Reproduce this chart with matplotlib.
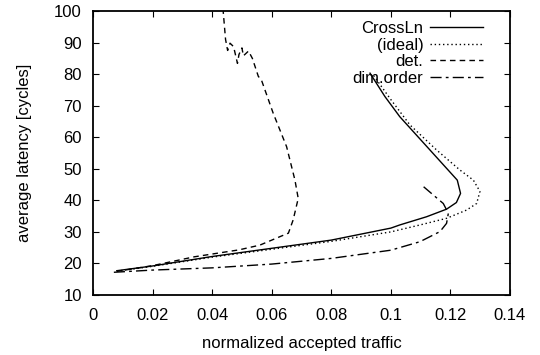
import matplotlib
matplotlib.use("Agg")
import matplotlib.pyplot as plt
from matplotlib.ticker import FormatStrFormatter

plt.rcParams['font.family'] = ['Liberation Sans', 'DejaVu Sans']
plt.rcParams['font.size'] = 12

# CrossLn (trait plein)
crossln_x = [0.008, 0.02, 0.04, 0.06, 0.08, 0.1, 0.103, 0.112, 0.1187, 0.122, 0.1234, 0.1223, 0.103, 0.098, 0.093]
crossln_y = [17.7, 19.2, 22.2, 24.8, 27.4, 31.2, 32.2, 34.8, 37.2, 39.3, 42.2, 46.4, 66.5, 72.9, 80.3]

# (ideal) (pointillé)
ideal_x = [0.008, 0.02, 0.04, 0.06, 0.08, 0.1, 0.1098, 0.1187, 0.1254, 0.1288, 0.1299, 0.1293, 0.1277,
           0.1232, 0.1153, 0.1064, 0.0997, 0.0941]
ideal_y = [17.5, 19.1, 22.0, 24.5, 27.0, 30.0, 32.2, 34.3, 36.9, 39.0, 42.8, 43.8, 46.4,
           49.6, 56.0, 63.9, 72.3, 79.7]

# det. (tirets)
det_x = [0.008, 0.02, 0.034, 0.049, 0.056, 0.0628, 0.0656, 0.0672, 0.0689, 0.0678, 0.065, 0.0605, 0.0566,
         0.0555, 0.0535, 0.0522, 0.0505, 0.050, 0.049, 0.0485, 0.0472, 0.046, 0.0452, 0.0445, 0.0437]
det_y = [17.5, 19.3, 22.1, 24.3, 25.8, 28.5, 29.6, 33.8, 40.6, 46.4, 57.0, 67.6, 78.0,
         79.3, 85.0, 87.3, 85.8, 88.3, 86.2, 83.4, 88.7, 89.8, 87.5, 91.0, 100.0]

# dim.order (tiret-point)
dim_x = [0.007, 0.02, 0.04, 0.06, 0.08, 0.1, 0.1098, 0.1165, 0.1187, 0.1193, 0.1176, 0.111]
dim_y = [17.2, 17.9, 18.6, 19.8, 21.6, 24.2, 26.9, 30.1, 32.7, 35.9, 39.0, 44.3]

x_ticks = [0, 0.02, 0.04, 0.06, 0.08, 0.1, 0.12, 0.14]
y_ticks = [10, 20, 30, 40, 50, 60, 70, 80, 90, 100]

fig = plt.figure(figsize=(5.4, 3.55), dpi=100)
ax = fig.add_axes([93 / 540, 1 - 295 / 355, 417 / 540, 284 / 355])

ax.plot(crossln_x, crossln_y, color='black', lw=1.0, linestyle='-', label='CrossLn')
ax.plot(ideal_x, ideal_y, color='black', lw=1.0, linestyle=(0, (1, 2)), label='(ideal)')
ax.plot(det_x, det_y, color='black', lw=1.0, linestyle=(0, (4, 3)), label='det.')
ax.plot(dim_x, dim_y, color='black', lw=1.0, linestyle=(0, (8, 3, 2, 3)), label='dim.order')

ax.set_xlim(0, 0.14)
ax.set_ylim(10, 100)
ax.set_xticks(x_ticks)
ax.set_yticks(y_ticks)
ax.xaxis.set_major_formatter(FormatStrFormatter('%g'))
ax.tick_params(direction='in', top=True, right=True, length=4, width=0.8, labelsize=12)
ax.tick_params(axis='y', pad=8)
ax.tick_params(axis='x', pad=9)
for s in ax.spines.values():
    s.set_linewidth(1.3)

ax.set_xlabel('normalized accepted traffic', fontsize=12, labelpad=10)
ax.set_ylabel('average latency [cycles]', fontsize=12, labelpad=16)

ax.legend(loc='upper right', frameon=False, markerfirst=False, handlelength=3.2,
          labelspacing=0.1, borderaxespad=0.2, handletextpad=0.4, fontsize=12,
          bbox_to_anchor=(0.96, 1.0))

fig.savefig('out.png', dpi=100)
